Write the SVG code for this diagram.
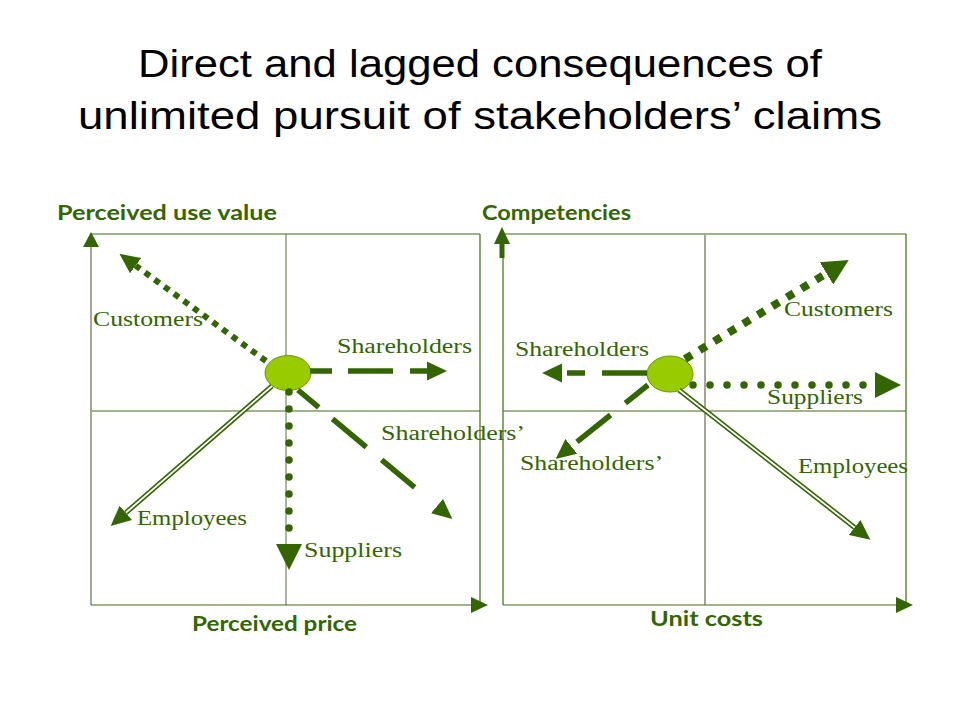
<svg xmlns="http://www.w3.org/2000/svg" width="960" height="720" viewBox="0 0 960 720">
<defs>
<style>
.title{font-family:"Liberation Sans","DejaVu Sans",sans-serif;font-size:38px;fill:#000}
.axis{font-family:"Lato","Liberation Sans",sans-serif;font-weight:bold;font-size:20px;fill:#336600}
.lbl{font-family:"Liberation Serif","DejaVu Serif",serif;font-size:20px;fill:#336600}
.frame{stroke:#3f6a14;stroke-width:1.2;fill:none}
.grey{stroke:#a3a894;stroke-width:2;fill:none}
.node{fill:#99cc00;stroke:#669900;stroke-width:1}
.dash{stroke:#336600;stroke-width:5.5;fill:none;stroke-linecap:butt}
.sq{stroke:#336600;fill:none;stroke-linecap:butt}
.dot{stroke:#336600;stroke-width:7.5;fill:none;stroke-linecap:round;stroke-dasharray:0 17}
.dblo{stroke:#336600;stroke-width:5;fill:none}
.dbli{stroke:#fff;stroke-width:1.8;fill:none}
</style>
<marker id="am" markerUnits="userSpaceOnUse" markerWidth="20" markerHeight="20" refX="0" refY="8" orient="auto" viewBox="0 0 17 16">
<path d="M0,0 L17,8 L0,16 z" fill="#336600"/>
</marker>
<marker id="ab" markerUnits="userSpaceOnUse" markerWidth="26" markerHeight="26" refX="0" refY="12" orient="auto" viewBox="0 0 24 24">
<path d="M0,0 L24,12 L0,24 z" fill="#336600"/>
</marker>
</defs>
<rect width="960" height="720" fill="#fff"/>

<g id="title">
<text class="title" x="138" y="77" textLength="684" lengthAdjust="spacingAndGlyphs">Direct and lagged consequences of</text>
<text class="title" x="78" y="129" textLength="804" lengthAdjust="spacingAndGlyphs">unlimited pursuit of stakeholders’ claims</text>
</g>

<g id="chart-left">
<line class="frame" x1="91" y1="234" x2="480" y2="234"/>
<line class="frame" x1="480" y1="234" x2="480" y2="605"/>
<line class="frame" x1="91" y1="411" x2="480" y2="411"/>
<line x1="286" y1="234" x2="286" y2="605" stroke="#74845f" stroke-width="1.2"/>
<line class="grey" x1="91" y1="605" x2="91" y2="246"/>
<polygon points="91,232 99,247 83,247" fill="#336600"/>
<line class="frame" x1="91" y1="605" x2="472" y2="605"/>
<polygon points="488,605 471,597 471,613" fill="#336600"/>
<text class="axis" x="57" y="220" textLength="220" lengthAdjust="spacingAndGlyphs">Perceived use value</text>
<text class="axis" x="192" y="631" textLength="165" lengthAdjust="spacingAndGlyphs">Perceived price</text>
</g>

<g id="chart-right">
<line class="frame" x1="503" y1="234" x2="906" y2="234"/>
<line class="frame" x1="906" y1="234" x2="906" y2="605"/>
<line class="frame" x1="503" y1="411" x2="906" y2="411"/>
<line class="grey" x1="705" y1="234" x2="705" y2="605"/>
<line class="frame" x1="503" y1="605" x2="503" y2="255"/>
<line x1="502" y1="258" x2="502" y2="243" stroke="#336600" stroke-width="5"/>
<polygon points="502,227 510,244 494,244" fill="#336600"/>
<line class="frame" x1="503" y1="605" x2="898" y2="605"/>
<polygon points="913,605 896,597 896,613" fill="#336600"/>
<text class="axis" x="482" y="220" textLength="149" lengthAdjust="spacingAndGlyphs">Competencies</text>
<text class="axis" x="650" y="626" textLength="113" lengthAdjust="spacingAndGlyphs">Unit costs</text>
</g>

<g id="node-left">
<ellipse class="node" cx="288" cy="373" rx="23" ry="17.5"/>
</g>
<g id="node-right">
<ellipse class="node" cx="670" cy="374" rx="23" ry="18"/>
</g>

<g id="connectors">
<!-- left chart -->
<path class="sq" d="M266,361 L135.6,265.6" stroke-width="6" stroke-dasharray="6 6" marker-end="url(#am)"/>
<path class="dash" d="M310,371 L427,371" stroke-dasharray="22 16 45 17" marker-end="url(#am)"/>
<path class="dash" d="M298,390 L437,506.1" stroke-dasharray="27 18 44 20 43 100" marker-end="url(#am)"/>
<path class="dot" d="M289,392 L289,543"/>
<path d="M289,543 L289,544" fill="none" marker-end="url(#ab)" stroke="none"/>
<path class="dblo" d="M272,386 L125.8,512.8"/>
<path class="dbli" d="M272,386 L125.8,512.8" marker-end="url(#am)"/>
<!-- right chart -->
<path class="dash" d="M647,373 L562,373" stroke-dasharray="45 17 18 10" marker-end="url(#am)"/>
<path class="sq" d="M685,359 L826.5,273.4" stroke-width="8" stroke-dasharray="8 9" marker-end="url(#ab)"/>
<path class="dot" d="M693,385 L874,385"/>
<path d="M874,385 L875,385" fill="none" marker-end="url(#ab)" stroke="none"/>
<path class="dash" d="M648,385 L571.3,446.4" stroke-dasharray="29 19 43 20" marker-end="url(#am)"/>
<path class="dblo" d="M679,390 L854.6,527.5"/>
<path class="dbli" d="M679,390 L854.6,527.5" marker-end="url(#am)"/>
</g>

<g id="labels">
<text class="lbl" x="93" y="326" textLength="110" lengthAdjust="spacingAndGlyphs">Customers</text>
<text class="lbl" x="337" y="353" textLength="135" lengthAdjust="spacingAndGlyphs">Shareholders</text>
<text class="lbl" x="381" y="440" textLength="144" lengthAdjust="spacingAndGlyphs">Shareholders’</text>
<text class="lbl" x="137" y="525" textLength="110" lengthAdjust="spacingAndGlyphs">Employees</text>
<text class="lbl" x="304" y="557" textLength="98" lengthAdjust="spacingAndGlyphs">Suppliers</text>
<text class="lbl" x="515" y="356" textLength="134" lengthAdjust="spacingAndGlyphs">Shareholders</text>
<text class="lbl" x="784" y="316" textLength="109" lengthAdjust="spacingAndGlyphs">Customers</text>
<text class="lbl" x="767" y="404" textLength="96" lengthAdjust="spacingAndGlyphs">Suppliers</text>
<text class="lbl" x="520" y="470" textLength="143" lengthAdjust="spacingAndGlyphs">Shareholders’</text>
<text class="lbl" x="798" y="473" textLength="110" lengthAdjust="spacingAndGlyphs">Employees</text>
</g>
</svg>
